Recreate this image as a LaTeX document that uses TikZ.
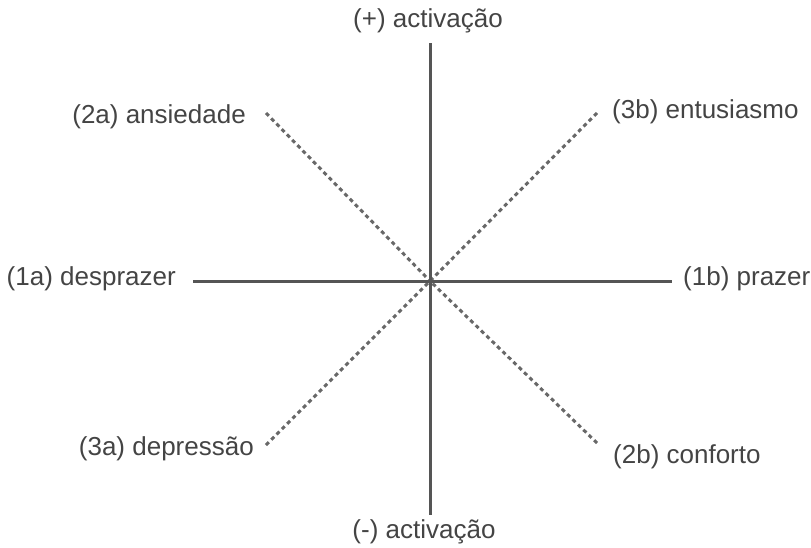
\documentclass[tikz,border=0pt]{standalone}
\usepackage{fontspec}
\setmainfont{Liberation Sans}
\definecolor{txt}{HTML}{444444}
\definecolor{axis}{HTML}{555555}
\definecolor{dots}{HTML}{686868}
\tikzset{
  lbl/.style={inner sep=0pt, text=txt, font=\fontsize{26}{30}\selectfont},
  axisline/.style={draw=axis, line width=3pt},
  diag/.style={draw=dots, line width=3pt, dash pattern=on 4pt off 3.5pt}
}
\begin{document}
\begin{tikzpicture}[x=1pt,y=-1pt]
\useasboundingbox (0,0) rectangle (811,547);
\coordinate (c) at (430,281);
\coordinate (top) at (430,43);
\coordinate (bot) at (430,515);
\coordinate (lft) at (193,281);
\coordinate (rgt) at (672,281);
\coordinate (tl) at (266,113);
\coordinate (tr) at (597,113);
\coordinate (bl) at (266,445);
\coordinate (br) at (597,443);
\draw[diag] (tl) -- (c);
\draw[diag] (tr) -- (c);
\draw[diag] (bl) -- (c);
\draw[diag] (br) -- (c);
\draw[axisline] (top) -- (bot);
\draw[axisline] (lft) -- (rgt);
\node[lbl, anchor=base] (pa) at (428,27) {(+) activação};
\node[lbl, anchor=base] (ma) at (424,538) {(-) activação};
\node[lbl, anchor=base east] (a2) at (246,123) {(2a) ansiedade};
\node[lbl, anchor=base west] (b3) at (612,118) {(3b) entusiasmo};
\node[lbl, anchor=base east] (a1) at (176,285) {(1a) desprazer};
\node[lbl, anchor=base west] (b1) at (683,285) {(1b) prazer};
\node[lbl, anchor=base east] (a3) at (254,455) {(3a) depressão};
\node[lbl, anchor=base west] (b2) at (613,463) {(2b) conforto};
\end{tikzpicture}
\end{document}
